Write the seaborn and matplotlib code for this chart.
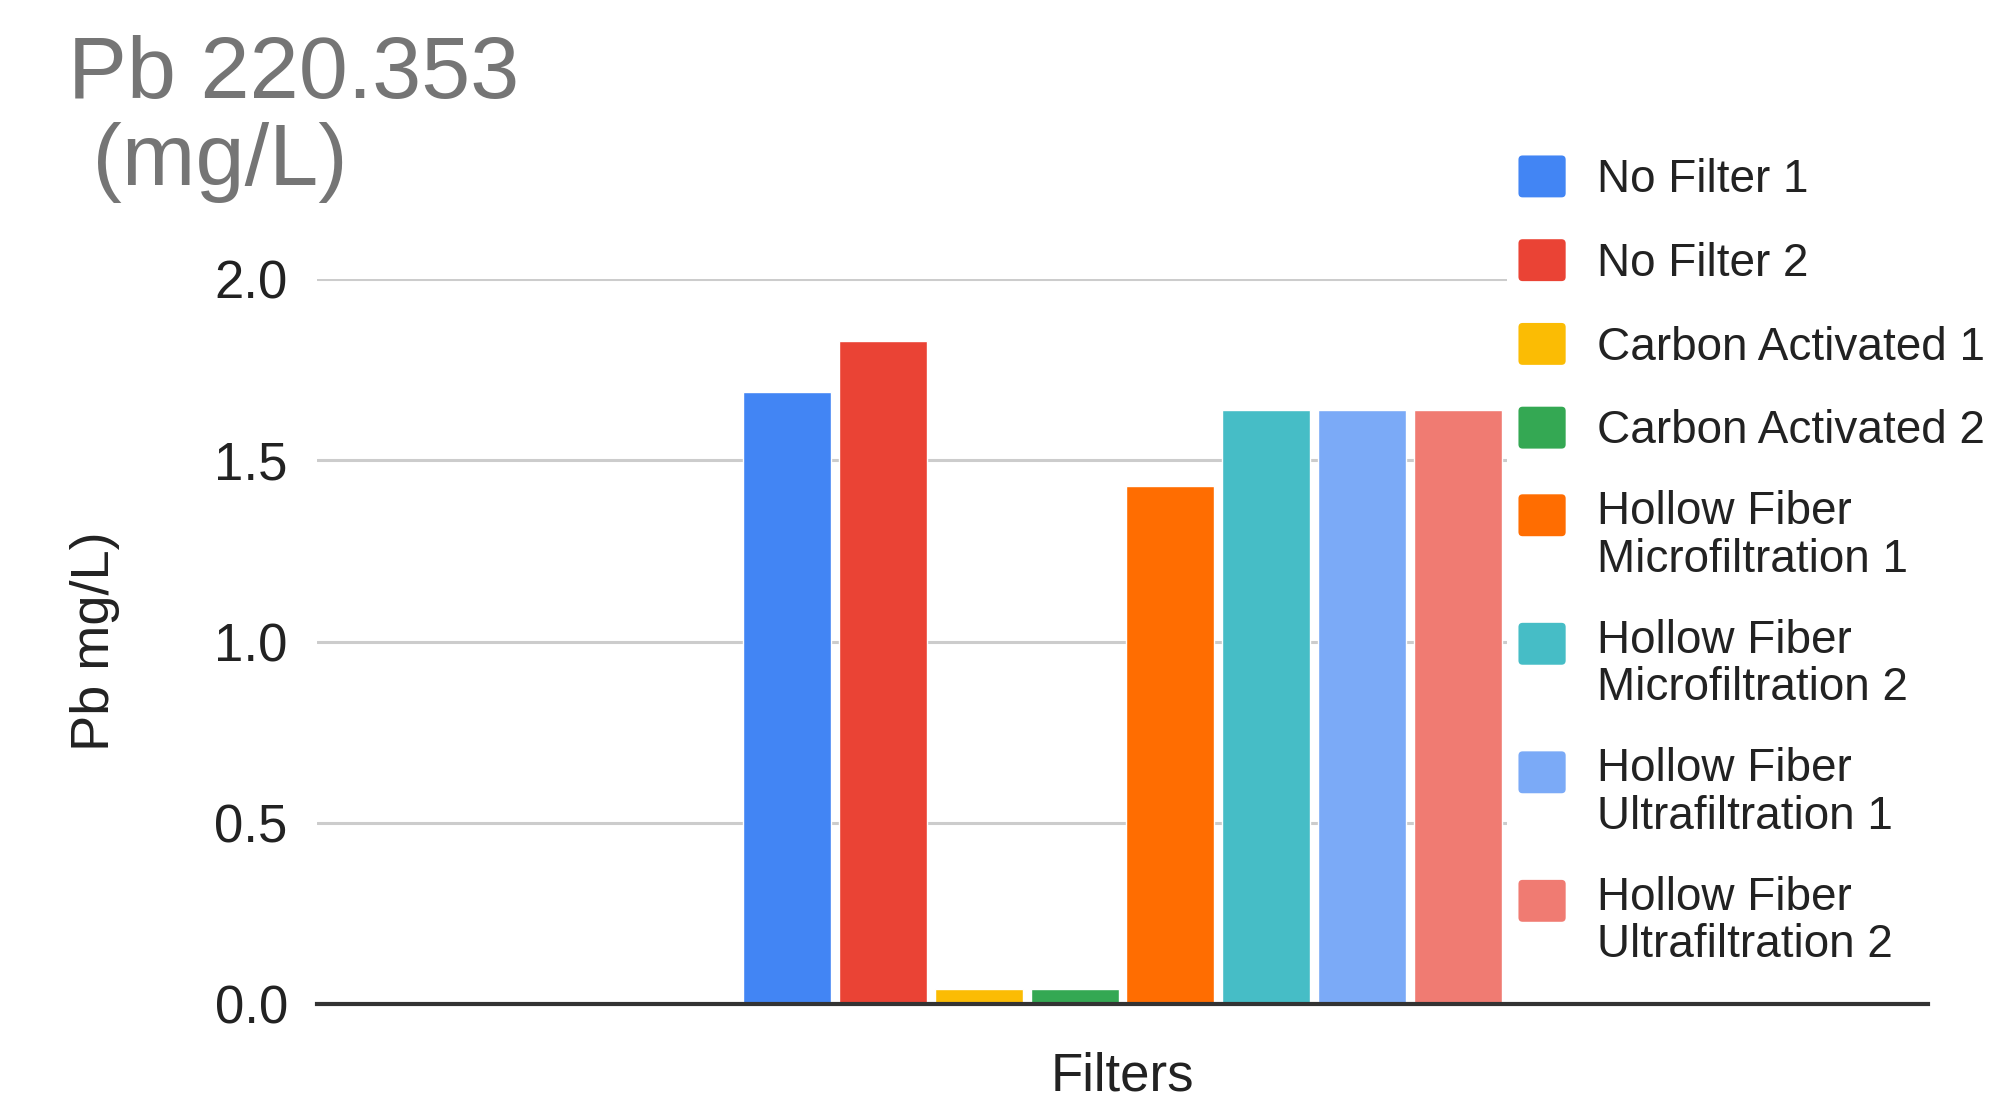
import pandas as pd
import matplotlib.pyplot as plt
import seaborn as sns
from matplotlib.patches import Patch, FancyBboxPatch
from matplotlib.legend_handler import HandlerPatch

filters = ['No Filter 1', 'No Filter 2', 'Carbon Activated 1', 'Carbon Activated 2',
           'Hollow Fiber Microfiltration 1', 'Hollow Fiber Microfiltration 2',
           'Hollow Fiber Ultrafiltration 1', 'Hollow Fiber Ultrafiltration 2']
pb_values = [1.69, 1.83, 0.04, 0.04, 1.43, 1.64, 1.64, 1.64]
colors = ['#4285F4', '#EA4335', '#FBBC04', '#34A853',
          '#FF6D01', '#46BDC6', '#7BAAF7', '#F07B72']

df = pd.DataFrame({'group': [''] * len(filters), 'filter': filters, 'pb': pb_values})

sns.set_theme(style="white")
plt.rcParams['font.family'] = ['Liberation Sans', 'DejaVu Sans']

fig = plt.figure(figsize=(19.92, 11), dpi=100)
ax = fig.add_axes([0.1591, 0.0873, 0.8088, 0.6588])

sns.barplot(data=df, x='group', y='pb', hue='filter', hue_order=filters,
            palette=colors, width=0.4755, gap=0.08, saturation=1,
            legend=False, ax=ax, zorder=3)

ax.set_ylim(0, 2.0)
ax.set_xlim(-0.5, 0.5)
ax.set_yticks([0, 0.5, 1.0, 1.5, 2.0])
ax.set_yticklabels(['0.0', '0.5', '1.0', '1.5', '2.0'])
ax.tick_params(axis='y', length=0, pad=21, labelsize=38, labelcolor='#222222')
ax.tick_params(axis='x', length=0, labelbottom=False)
ax.yaxis.grid(True, color='#cccccc', linewidth=2.2, zorder=0)
ax.set_axisbelow(True)
for s in ['top', 'right', 'left']:
    ax.spines[s].set_visible(False)
ax.spines['bottom'].set_color('#333333')
ax.spines['bottom'].set_linewidth(3)
ax.spines['bottom'].set_zorder(6)

ax.set_ylabel('Pb mg/L)', fontsize=39, color='#222222', labelpad=68)
ax.set_xlabel('Filters', fontsize=38, color='#222222', labelpad=34)


# rounded square legend keys; two-line entries keep the key on the first line
def make_key(shift):
    def key(legend, orig_handle, xdescent, ydescent, width, height, fontsize):
        return FancyBboxPatch((-xdescent, -ydescent + shift), width, height,
                              boxstyle='round,pad=0,rounding_size=3')
    return key


labels = [f.replace('Hollow Fiber ', 'Hollow Fiber\n') for f in filters]
handles = [Patch(facecolor=c, edgecolor='none') for c in colors]
handler_map = {h: HandlerPatch(patch_func=make_key(16 if '\n' in lab else 0))
               for h, lab in zip(handles, labels)}

leg = ax.legend(handles, labels, loc='upper left', handler_map=handler_map,
                bbox_to_anchor=(1507 / 1992, 1 - 144 / 1100),
                bbox_transform=fig.transFigure, borderaxespad=0,
                fontsize=33, frameon=True, fancybox=False, framealpha=1,
                facecolor='white', edgecolor='none', borderpad=0.25,
                handlelength=1.03, handleheight=1.03, handletextpad=0.68,
                labelspacing=0.81)
for t in leg.get_texts():
    t.set_color('#222222')
    t.set_linespacing(1.1)
leg.set_zorder(5)

fig.text(68 / 1992, 1 - 35 / 1100, 'Pb 220.353\n (mg/L)', fontsize=63.5,
         color='#757575', va='top', ha='left', linespacing=1.1)

fig.savefig('out.png', dpi=100, facecolor='white')
